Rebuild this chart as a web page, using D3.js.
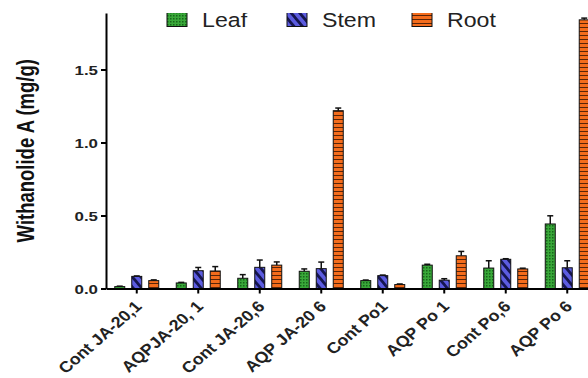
<!DOCTYPE html>
<html lang="en">
<head>
    <meta charset="UTF-8">
    <title>Withanolide A</title>
    <style type="text/css">
        body { margin:0; background:#fff }
        svg { display:block; font-family: Arial, "Liberation Sans", sans-serif }
    </style>
</head>
<body>
<script src="https://d3js.org/d3.v7.min.js"></script>
<script>
    var categories = ['Cont JA-20,1', 'AQPJA-20, 1', 'Cont JA-20,6', 'AQP JA-20 6',
                      'Cont Po1', 'AQP Po 1', 'Cont Po,6', 'AQP Po 6'];
    var seriesNames = ['Leaf', 'Stem', 'Root'];
    var leaf     = [0.013, 0.038, 0.070, 0.118, 0.054, 0.160, 0.140, 0.442];
    var leafErr  = [0.003, 0.004, 0.025, 0.016, 0.004, 0.006, 0.050, 0.056];
    var stem     = [0.083, 0.122, 0.145, 0.136, 0.088, 0.057, 0.200, 0.142];
    var stemErr  = [0.003, 0.022, 0.050, 0.045, 0.004, 0.010, 0.004, 0.048];
    var root     = [0.054, 0.120, 0.160, 1.218, 0.027, 0.224, 0.134, 1.840];
    var rootErr  = [0.005, 0.030, 0.022, 0.018, 0.004, 0.030, 0.005, 0.012];
    var yTicks   = [0, 0.5, 1.0, 1.5];
    var yMax     = 1.887;

    var width = 588,
        height = 378,
        plotLeft = 106,
        plotTop = 13,
        plotBottom = 288.5,
        step = 61.5,
        sx = 1.25;   // the picture is stretched sideways

    var values = [leaf, stem, root],
        errs = [leafErr, stemErr, rootErr];

    var rows = [];
    categories.forEach(function(c, i) {
        seriesNames.forEach(function(s, j) {
            rows.push({cat: c, series: s, value: values[j][i], err: errs[j][i]});
        });
    });

    var svg = d3.select('body').append('svg')
        .attr('width', width)
        .attr('height', height);

    var defs = svg.append('defs');

    // leaf: green with dots
    var pLeaf = defs.append('pattern').attr('id', 'pat-Leaf')
        .attr('patternUnits', 'userSpaceOnUse').attr('width', 3).attr('height', 3);
    pLeaf.append('rect').attr('width', 3).attr('height', 3).attr('fill', '#39a839');
    pLeaf.append('rect').attr('width', 1.5).attr('height', 1.5).attr('fill', '#17651a');

    // stem: blue with diagonal stripes
    var pStem = defs.append('pattern').attr('id', 'pat-Stem')
        .attr('patternUnits', 'userSpaceOnUse').attr('width', 6.5).attr('height', 6.5)
        .attr('patternTransform', 'rotate(-40)');
    pStem.append('rect').attr('width', 6.5).attr('height', 6.5).attr('fill', '#5c5ce0');
    pStem.append('rect').attr('width', 2.8).attr('height', 6.5).attr('fill', '#151550');

    // root: orange with horizontal lines
    var pRoot = defs.append('pattern').attr('id', 'pat-Root')
        .attr('patternUnits', 'userSpaceOnUse').attr('width', 4).attr('height', 4);
    pRoot.append('rect').attr('width', 4).attr('height', 4).attr('fill', '#f46c1c');
    pRoot.append('rect').attr('y', 3).attr('width', 4).attr('height', 1).attr('fill', '#5a2408');

    defs.append('clipPath').attr('id', 'crop')
        .append('rect').attr('x', 0).attr('y', plotTop).attr('width', width).attr('height', height - plotTop);

    var xScale = d3.scaleBand().domain(categories).range([plotLeft, plotLeft + step * categories.length]);
    var inner = d3.scaleBand().domain(seriesNames).range([-step / 2 + 5.25, step / 2 - 5.25])
        .paddingInner(7 / 17).paddingOuter(0.206);
    var yScale = d3.scaleLinear().domain([0, yMax]).range([plotBottom, plotTop]);

    var chart = svg.append('g').attr('clip-path', 'url(#crop)');

    // bars
    chart.selectAll('rect.bar')
        .data(rows)
        .enter()
        .append('rect')
        .attr('class', 'bar')
        .attr('x', function(d) { return xScale(d.cat) + step / 2 + inner(d.series); })
        .attr('y', function(d) { return yScale(d.value); })
        .attr('width', inner.bandwidth())
        .attr('height', function(d) { return plotBottom - yScale(d.value); })
        .attr('fill', function(d) { return 'url(#pat-' + d.series + ')'; })
        .attr('stroke', '#111')
        .attr('stroke-width', 1);

    // error bars
    var eb = chart.selectAll('g.err')
        .data(rows)
        .enter()
        .append('g')
        .attr('class', 'err')
        .attr('stroke', '#111')
        .attr('stroke-width', 1.5);
    function cx(d) { return xScale(d.cat) + step / 2 + inner(d.series) + inner.bandwidth() / 2; }
    eb.append('line')
        .attr('x1', cx).attr('x2', cx)
        .attr('y1', function(d) { return yScale(d.value); })
        .attr('y2', function(d) { return yScale(d.value + d.err); });
    eb.append('line')
        .attr('x1', function(d) { return cx(d) - 3; })
        .attr('x2', function(d) { return cx(d) + 3; })
        .attr('y1', function(d) { return yScale(d.value + d.err); })
        .attr('y2', function(d) { return yScale(d.value + d.err); });

    // y axis
    var yAxis = d3.axisLeft(yScale).tickValues(yTicks).tickFormat(d3.format('.1f'))
        .tickSize(5).tickSizeOuter(0);
    var gy = svg.append('g')
        .attr('transform', 'translate(' + plotLeft + ',0)')
        .call(yAxis);
    gy.select('.domain').attr('stroke', '#000').attr('stroke-width', 2);
    gy.selectAll('.tick line').attr('stroke', '#000').attr('stroke-width', 2);
    gy.selectAll('.tick text')
        .attr('x', null).attr('dy', null)
        .attr('transform', 'translate(-8,4.5) scale(1.35,1)')
        .attr('fill', '#222')
        .style('font-size', '12.5px')
        .style('font-weight', 'bold')
        .style('font-family', 'Arial, "Liberation Sans", sans-serif');

    // x axis
    var xAxis = d3.axisBottom(xScale).tickSize(5).tickSizeOuter(0).tickFormat('');
    var gx = svg.append('g')
        .attr('transform', 'translate(0,' + plotBottom + ')')
        .call(xAxis);
    gx.select('.domain').attr('stroke', '#000').attr('stroke-width', 2);
    gx.selectAll('.tick line').attr('stroke', '#000').attr('stroke-width', 2);

    svg.append('g').selectAll('text')
        .data(categories)
        .enter()
        .append('text')
        .attr('transform', function(d) {
            return 'translate(' + (xScale(d) + step / 2 + 6) + ',' + (plotBottom + 19) + ') scale(1.15,1) rotate(-45)';
        })
        .attr('text-anchor', 'end')
        .attr('fill', '#222')
        .style('font-size', '15.5px')
        .style('font-weight', 'bold')
        .text(function(d) { return d; });

    // y label
    svg.append('text')
        .attr('transform', 'translate(34,' + ((plotTop + plotBottom) / 2) + ') scale(1.3,1) rotate(-90)')
        .attr('text-anchor', 'middle')
        .attr('fill', '#111')
        .style('font-size', '18.5px')
        .style('font-weight', 'bold')
        .text('Withanolide A (mg/g)');

    // legend
    var legendX = [167, 287, 412];
    var legend = chart.append('g').selectAll('g')
        .data(seriesNames)
        .enter()
        .append('g')
        .attr('transform', function(d, i) { return 'translate(' + legendX[i] + ',0)'; });
    legend.append('rect')
        .attr('y', 11)
        .attr('width', 20)
        .attr('height', 15.5)
        .attr('fill', function(d) { return 'url(#pat-' + d + ')'; })
        .attr('stroke', '#111')
        .attr('stroke-width', 1);
    legend.append('text')
        .attr('transform', 'translate(35,26.5) scale(1.13,1)')
        .attr('fill', '#222')
        .style('font-size', '20.5px')
        .text(function(d) { return d; });
</script>
</body>
</html>
